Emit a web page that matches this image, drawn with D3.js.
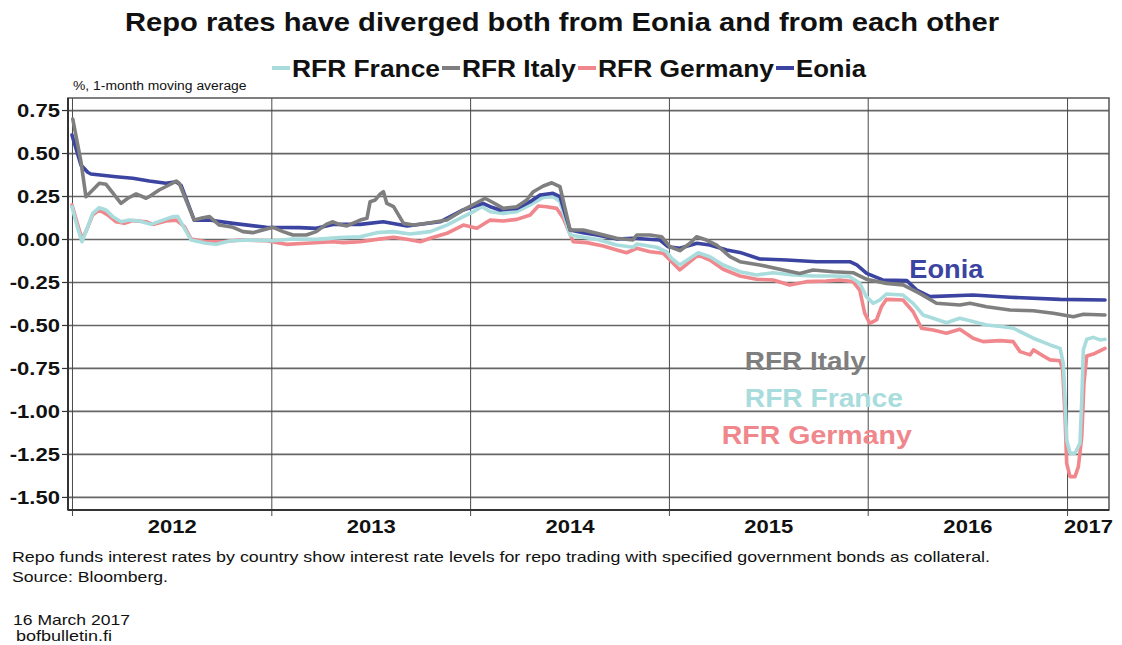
<!DOCTYPE html>
<html>
<head>
<meta charset="utf-8">
<script src="https://cdn.jsdelivr.net/npm/d3@7"></script>
<style>
  body { margin: 0; background: #fff; }
  svg { display: block; font-family: "Liberation Sans", Arial, sans-serif; }
</style>
</head>
<body>
<svg id="chart" width="1122" height="645"></svg>
<script>
// Observation times as decimal years, rates in %, 1-month moving average
const eoniaT = [2012.000, 2012.045, 2012.079, 2012.095, 2012.221, 2012.305, 2012.387, 2012.472, 2012.523, 2012.548, 2012.613, 2012.688, 2012.808, 2012.975, 2013.141, 2013.226, 2013.310, 2013.447, 2013.563, 2013.683, 2013.849, 2013.965, 2014.015, 2014.065, 2014.101, 2014.151, 2014.236, 2014.302, 2014.352, 2014.417, 2014.452, 2014.503, 2014.568, 2014.638, 2014.739, 2014.819, 2014.955, 2014.995, 2015.055, 2015.141, 2015.206, 2015.291, 2015.357, 2015.457, 2015.593, 2015.744, 2015.910, 2015.945, 2015.995, 2016.075, 2016.196, 2016.246, 2016.312, 2016.528, 2016.714, 2016.965, 2017.191];
const eoniaV = [0.605, 0.43, 0.388, 0.378, 0.362, 0.353, 0.337, 0.324, 0.333, 0.31, 0.11, 0.11, 0.091, 0.068, 0.066, 0.062, 0.085, 0.085, 0.10, 0.076, 0.10, 0.169, 0.188, 0.207, 0.188, 0.169, 0.178, 0.217, 0.256, 0.266, 0.246, 0.052, 0.037, 0.023, 0.0, 0.004, -0.006, -0.045, -0.054, -0.025, -0.035, -0.064, -0.078, -0.116, -0.122, -0.132, -0.132, -0.151, -0.2, -0.238, -0.242, -0.297, -0.335, -0.326, -0.339, -0.351, -0.355];

const italyT = [2012.004, 2012.045, 2012.070, 2012.104, 2012.137, 2012.171, 2012.246, 2012.280, 2012.322, 2012.372, 2012.387, 2012.437, 2012.487, 2012.523, 2012.538, 2012.613, 2012.657, 2012.690, 2012.739, 2012.808, 2012.858, 2012.908, 2012.958, 2013.009, 2013.059, 2013.109, 2013.176, 2013.226, 2013.276, 2013.310, 2013.342, 2013.380, 2013.447, 2013.481, 2013.497, 2013.523, 2013.548, 2013.564, 2013.581, 2013.615, 2013.665, 2013.715, 2013.799, 2013.883, 2013.966, 2014.034, 2014.075, 2014.117, 2014.167, 2014.235, 2014.285, 2014.318, 2014.368, 2014.411, 2014.452, 2014.503, 2014.569, 2014.637, 2014.737, 2014.819, 2014.838, 2014.905, 2014.963, 2015.005, 2015.055, 2015.106, 2015.139, 2015.189, 2015.240, 2015.307, 2015.357, 2015.457, 2015.558, 2015.658, 2015.725, 2015.826, 2015.926, 2015.993, 2016.094, 2016.177, 2016.261, 2016.345, 2016.462, 2016.513, 2016.596, 2016.714, 2016.831, 2016.931, 2017.032, 2017.082, 2017.191];
const italyV = [0.698, 0.45, 0.246, 0.285, 0.324, 0.318, 0.207, 0.237, 0.262, 0.237, 0.246, 0.285, 0.314, 0.337, 0.324, 0.11, 0.124, 0.130, 0.081, 0.068, 0.043, 0.037, 0.052, 0.068, 0.043, 0.023, 0.023, 0.043, 0.085, 0.10, 0.085, 0.076, 0.11, 0.12, 0.217, 0.227, 0.262, 0.275, 0.207, 0.188, 0.091, 0.081, 0.095, 0.11, 0.169, 0.211, 0.237, 0.211, 0.178, 0.188, 0.227, 0.275, 0.308, 0.327, 0.304, 0.052, 0.052, 0.033, 0.004, -0.006, 0.023, 0.023, 0.013, -0.045, -0.068, -0.025, 0.013, -0.006, -0.035, -0.103, -0.132, -0.151, -0.176, -0.2, -0.18, -0.19, -0.196, -0.234, -0.258, -0.267, -0.316, -0.374, -0.384, -0.374, -0.394, -0.413, -0.417, -0.432, -0.452, -0.438, -0.442];

const franceT = [2012.000, 2012.029, 2012.050, 2012.070, 2012.104, 2012.137, 2012.171, 2012.205, 2012.246, 2012.288, 2012.338, 2012.397, 2012.456, 2012.506, 2012.531, 2012.564, 2012.598, 2012.673, 2012.724, 2012.790, 2012.891, 2013.009, 2013.109, 2013.226, 2013.343, 2013.447, 2013.531, 2013.615, 2013.698, 2013.799, 2013.883, 2013.966, 2014.017, 2014.059, 2014.101, 2014.167, 2014.235, 2014.302, 2014.368, 2014.419, 2014.452, 2014.503, 2014.569, 2014.637, 2014.737, 2014.821, 2014.838, 2014.938, 2014.988, 2015.013, 2015.055, 2015.106, 2015.147, 2015.206, 2015.273, 2015.357, 2015.441, 2015.524, 2015.625, 2015.725, 2015.826, 2015.910, 2015.960, 2015.993, 2016.027, 2016.060, 2016.094, 2016.177, 2016.228, 2016.278, 2016.328, 2016.395, 2016.462, 2016.513, 2016.596, 2016.680, 2016.730, 2016.831, 2016.915, 2016.965, 2016.981, 2016.990, 2016.998, 2017.015, 2017.040, 2017.065, 2017.074, 2017.082, 2017.099, 2017.132, 2017.166, 2017.191];
const franceV = [0.188, 0.062, -0.016, 0.043, 0.149, 0.182, 0.169, 0.13, 0.10, 0.11, 0.105, 0.085, 0.11, 0.13, 0.13, 0.062, -0.006, -0.025, -0.031, -0.012, -0.006, -0.010, 0.0, -0.002, 0.008, 0.013, 0.037, 0.043, 0.029, 0.043, 0.081, 0.13, 0.159, 0.188, 0.159, 0.149, 0.159, 0.198, 0.242, 0.246, 0.217, 0.023, 0.010, -0.002, -0.035, -0.048, -0.029, -0.048, -0.074, -0.112, -0.151, -0.112, -0.080, -0.103, -0.151, -0.19, -0.209, -0.196, -0.209, -0.215, -0.215, -0.219, -0.258, -0.335, -0.374, -0.355, -0.32, -0.326, -0.374, -0.442, -0.461, -0.487, -0.461, -0.475, -0.5, -0.510, -0.519, -0.577, -0.616, -0.636, -0.723, -0.936, -1.169, -1.246, -1.246, -1.188, -0.936, -0.645, -0.583, -0.572, -0.587, -0.583];

const germanyT = [2012.000, 2012.029, 2012.050, 2012.070, 2012.104, 2012.137, 2012.179, 2012.221, 2012.263, 2012.305, 2012.372, 2012.406, 2012.472, 2012.523, 2012.564, 2012.598, 2012.673, 2012.757, 2012.841, 2012.975, 2013.075, 2013.176, 2013.310, 2013.363, 2013.447, 2013.531, 2013.615, 2013.682, 2013.749, 2013.799, 2013.883, 2013.966, 2014.034, 2014.101, 2014.167, 2014.235, 2014.302, 2014.343, 2014.385, 2014.436, 2014.469, 2014.519, 2014.586, 2014.670, 2014.737, 2014.787, 2014.838, 2014.905, 2014.971, 2015.005, 2015.055, 2015.106, 2015.147, 2015.206, 2015.273, 2015.357, 2015.441, 2015.524, 2015.608, 2015.692, 2015.792, 2015.859, 2015.926, 2015.960, 2015.985, 2016.010, 2016.044, 2016.069, 2016.094, 2016.177, 2016.228, 2016.270, 2016.328, 2016.395, 2016.462, 2016.529, 2016.579, 2016.663, 2016.730, 2016.764, 2016.814, 2016.831, 2016.881, 2016.915, 2016.965, 2016.978, 2016.990, 2016.998, 2017.015, 2017.040, 2017.057, 2017.074, 2017.085, 2017.099, 2017.132, 2017.191];
const germanyV = [0.198, 0.081, 0.0, 0.043, 0.14, 0.169, 0.14, 0.10, 0.091, 0.107, 0.10, 0.085, 0.105, 0.11, 0.072, 0.0, -0.016, -0.016, -0.006, -0.01, -0.031, -0.025, -0.016, -0.021, -0.016, -0.002, 0.010, -0.002, -0.016, 0.004, 0.033, 0.081, 0.062, 0.11, 0.105, 0.114, 0.14, 0.192, 0.188, 0.178, 0.12, -0.016, -0.021, -0.041, -0.064, -0.080, -0.054, -0.074, -0.083, -0.122, -0.18, -0.132, -0.093, -0.122, -0.176, -0.215, -0.234, -0.238, -0.267, -0.248, -0.244, -0.238, -0.248, -0.297, -0.432, -0.49, -0.471, -0.394, -0.351, -0.355, -0.423, -0.519, -0.529, -0.548, -0.525, -0.577, -0.597, -0.591, -0.597, -0.655, -0.674, -0.645, -0.680, -0.703, -0.708, -0.762, -1.034, -1.304, -1.382, -1.382, -1.324, -1.149, -0.839, -0.680, -0.669, -0.636];

const yTickValues = [0.75, 0.5, 0.25, 0, -0.25, -0.5, -0.75, -1, -1.25, -1.5];
const yearLabels = [2012, 2013, 2014, 2015, 2016, 2017];

const legendNames = ["RFR France", "RFR Italy", "RFR Germany", "Eonia"];
const seriesColors = ["#a9dcdc", "#7f7f7f", "#f0878c", "#3b44a0"];

// ---- layout ----
const svg = d3.select("#chart");
const L = 68, R = 1109, T = 98, B = 510;
const WIDE = 1.16; // the typeface is drawn slightly wide

function toDate(t) {
  const yr = Math.floor(t);
  const s = new Date(yr, 0, 1), e = new Date(yr + 1, 0, 1);
  return new Date(+s + (t - yr) * (e - s));
}
// widen text glyphs horizontally by factor k
function widen(sel, k) {
  sel.each(function () {
    const w = this.getComputedTextLength();
    d3.select(this).attr("textLength", w * k).attr("lengthAdjust", "spacingAndGlyphs");
  });
}
function fitTo(sel, w) {
  sel.attr("textLength", w).attr("lengthAdjust", "spacingAndGlyphs");
}

const x = d3.scaleTime().domain([toDate(2011.980), toDate(2017.211)]).range([L, R]);
const y = d3.scaleLinear().domain([-1.576, 0.82]).range([B, T]);

const fmt = d3.formatLocale({ decimal: ".", thousands: ",", grouping: [3], currency: ["", ""], minus: "-" }).format(".2f");

// title + legend
svg.append("text").attr("x", 562).attr("y", 31).attr("text-anchor", "middle")
  .attr("font-size", 26).attr("font-weight", "bold").attr("fill", "#111")
  .text("Repo rates have diverged both from Eonia and from each other")
  .call(fitTo, 874);

const legend = svg.append("g").attr("transform", "translate(272,68)");
const legendWidths = [148, 114, 176, 70];
let lx = 0;
legendNames.forEach((name, i) => {
  const g = legend.append("g").attr("transform", `translate(${lx},0)`);
  g.append("line").attr("x1", 0).attr("x2", 18).attr("y1", 0).attr("y2", 0)
    .attr("stroke", seriesColors[i]).attr("stroke-width", 4);
  g.append("text").attr("x", 20).attr("y", 8.5).attr("font-size", 23)
    .attr("font-weight", "bold").attr("fill", "#111").text(name)
    .call(fitTo, legendWidths[i]);
  lx += 20 + legendWidths[i] + 2;
});

svg.append("text").attr("x", 73).attr("y", 90).attr("font-size", 12.5).attr("fill", "#111")
  .text("%, 1-month moving average").call(widen, 1.11);

// horizontal gridlines
svg.append("g").attr("transform", `translate(${L},0)`)
  .call(d3.axisLeft(y).tickValues(yTickValues).tickSize(-(R - L)).tickFormat(""))
  .call(g => g.select(".domain").remove())
  .call(g => g.selectAll("line").attr("stroke", "#666").attr("stroke-width", 1.7));

// vertical year gridlines with ticks below the axis
const yearStarts = yearLabels.map(d => new Date(d, 0, 1));
svg.append("g").attr("transform", `translate(0,${B + 6})`)
  .call(d3.axisBottom(x).tickValues(yearStarts).tickSize(-(B + 6 - T)).tickFormat(""))
  .call(g => g.select(".domain").remove())
  .call(g => g.selectAll("line").attr("stroke", "#4a4a4a").attr("stroke-width", 1));

// year labels centred on each year
const endDate = x.domain()[1];
const yearMids = yearLabels.map(d => {
  const s = new Date(d, 0, 1), e = new Date(Math.min(+new Date(d + 1, 0, 1), +endDate));
  return new Date((+s + +e) / 2);
});
svg.append("g").attr("transform", `translate(0,${B})`)
  .call(d3.axisBottom(x).tickValues(yearMids).tickSize(0).tickPadding(10)
    .tickFormat(d => yearLabels[yearMids.findIndex(m => +m === +d)]))
  .call(g => g.select(".domain").remove())
  .call(g => g.selectAll("text").attr("font-size", 19).attr("font-weight", "bold")
    .attr("fill", "#111").attr("font-family", "Liberation Sans, Arial, sans-serif")
    .call(widen, WIDE));

// y axis labels and ticks
svg.append("g").attr("transform", `translate(${L},0)`)
  .call(d3.axisLeft(y).tickValues(yTickValues).tickSize(6).tickPadding(2).tickFormat(fmt))
  .call(g => g.select(".domain").remove())
  .call(g => g.selectAll("line").attr("stroke", "#333").attr("stroke-width", 1.2))
  .call(g => g.selectAll("text").attr("font-size", 19).attr("font-weight", "bold")
    .attr("fill", "#111").attr("font-family", "Liberation Sans, Arial, sans-serif")
    .call(widen, WIDE));

// frame
svg.append("rect").attr("x", L).attr("y", T).attr("width", R - L).attr("height", B - T)
  .attr("fill", "none").attr("stroke", "#555").attr("stroke-width", 1.5);
svg.append("line").attr("x1", L).attr("x2", L).attr("y1", T).attr("y2", B)
  .attr("stroke", "#333").attr("stroke-width", 2);
svg.append("line").attr("x1", L).attr("x2", R).attr("y1", B).attr("y2", B)
  .attr("stroke", "#333").attr("stroke-width", 2);

// series
const series = [
  { t: germanyT, v: germanyV, c: seriesColors[2] },
  { t: franceT, v: franceV, c: seriesColors[0] },
  { t: eoniaT, v: eoniaV, c: seriesColors[3] },
  { t: italyT, v: italyV, c: seriesColors[1] }
];
const line = d3.line().x(d => x(d[0])).y(d => y(d[1]));
series.forEach(s => {
  const pts = s.t.map((t, i) => [toDate(t), s.v[i]]);
  svg.append("path").attr("d", line(pts)).attr("fill", "none")
    .attr("stroke", s.c).attr("stroke-width", 3.6)
    .attr("stroke-linejoin", "round").attr("stroke-linecap", "round");
});

// inline series labels
const inline = [
  { name: "Eonia", t: 2016.209, v: -0.225, c: seriesColors[3], w: 74 },
  { name: "RFR Italy", t: 2015.382, v: -0.76, c: seriesColors[1], w: 121 },
  { name: "RFR France", t: 2015.382, v: -0.975, c: seriesColors[0], w: 158 },
  { name: "RFR Germany", t: 2015.266, v: -1.195, c: seriesColors[2], w: 190 }
];
inline.forEach(d => {
  svg.append("text").attr("x", x(toDate(d.t))).attr("y", y(d.v))
    .attr("font-size", 26).attr("font-weight", "bold").attr("fill", d.c).text(d.name)
    .call(fitTo, d.w);
});

// notes
const notes = svg.append("g").attr("font-size", 15).attr("fill", "#111");
notes.append("text").attr("x", 12).attr("y", 562)
  .text("Repo funds interest rates by country show interest rate levels for repo trading with specified government bonds as collateral.")
  .call(fitTo, 978);
notes.append("text").attr("x", 12).attr("y", 582).text("Source: Bloomberg.").call(fitTo, 156);
notes.append("text").attr("x", 13).attr("y", 625).text("16 March 2017").call(fitTo, 117);
notes.append("text").attr("x", 16).attr("y", 641).text("bofbulletin.fi").call(fitTo, 96);
</script>
</body>
</html>
